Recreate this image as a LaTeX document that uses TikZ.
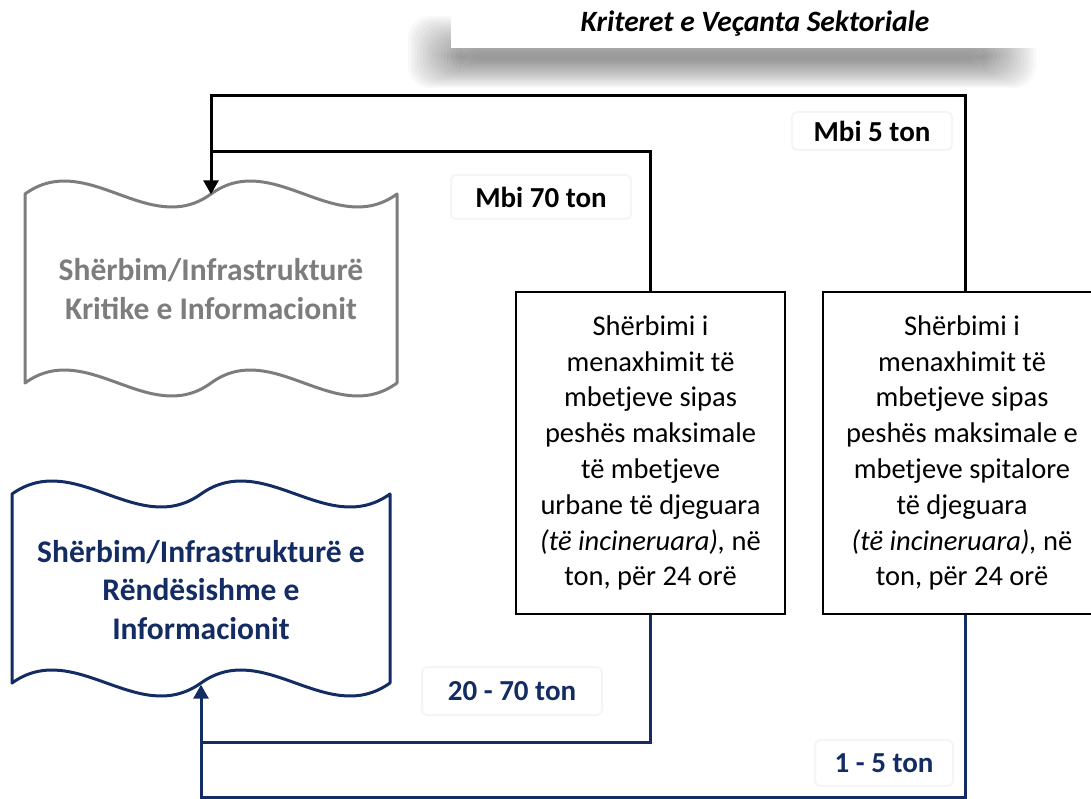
\documentclass[tikz,border=0pt]{standalone}
\usepackage{fontspec}
\setmainfont{Carlito}
\usetikzlibrary{arrows.meta,calc}
\definecolor{navy}{RGB}{20,44,100}
\definecolor{docgray}{RGB}{125,125,125}
\begin{document}
\begin{tikzpicture}[x=1pt,y=-1pt,
  boxtext/.style={draw=black,line width=2.5pt,fill=white,align=center,inner sep=0pt,
    minimum width=269pt,minimum height=322pt,font=\fontsize{28.5}{35.8}\selectfont},
  doctext/.style={align=center,inner sep=0pt,font=\bfseries\fontsize{31.5}{38.5}\selectfont},
  lbl/.style={fill=white,draw=black!4,line width=2pt,rounded corners=5pt,inner sep=0pt,
    font=\bfseries\fontsize{29}{34}\selectfont},
  conn/.style={line width=3pt},
  docline/.style={line width=3pt,line join=round},
  tip/.style={-{Triangle[length=14pt,width=15pt]}}]
\useasboundingbox (0,0) rectangle (1091,799);
\clip (0,0) rectangle (1091,799);

% title shadow (soft, layered)
\foreach \i in {0,...,17}{
  \fill[black,fill opacity=0.028,rounded corners=22pt]
    (408+3*\i,16+2.2*\i) rectangle (1036-3*\i,88-1.6*\i);
}
\node[fill=white,inner sep=0pt,minimum width=608pt,minimum height=48pt,
  font=\bfseries\itshape\fontsize{29.5}{32}\selectfont] (title) at (755,24)
  {Kriteret e Veçanta Sektoriale};

% document shapes
\draw[docline,docgray,fill=white]
  (25,194) .. controls (87,149) and (149,239) .. (211,194)
           .. controls (273,149) and (335,239) .. (397,194)
  -- (397,383)
           .. controls (335,428) and (273,338) .. (211,383)
           .. controls (149,428) and (87,338) .. (25,383) -- cycle;
\node[doctext,text=docgray,minimum width=372pt,minimum height=189pt] (crit) at (211,289)
  {Shërbim/Infrastrukturë\\Kritike e Informacionit};

\draw[docline,navy,fill=white]
  (12,494) .. controls (75,449) and (138,539) .. (201,494)
           .. controls (264,449) and (327,539) .. (390,494)
  -- (390,683)
           .. controls (327,728) and (264,638) .. (201,683)
           .. controls (138,728) and (75,638) .. (12,683) -- cycle;
\node[doctext,text=navy,minimum width=378pt,minimum height=189pt] (imp) at (201,590)
  {Shërbim/Infrastrukturë e\\Rëndësishme e\\Informacionit};

% criteria boxes
\node[boxtext] (mid) at (650.5,453)
  {Shërbimi i\\menaxhimit të\\mbetjeve sipas\\peshës maksimale\\të mbetjeve\\urbane të djeguara\\\textit{(të incineruara),} në\\ton, për 24 orë};
\node[boxtext,minimum width=278pt] (right) at (962,453)
  {Shërbimi i\\menaxhimit të\\mbetjeve sipas\\peshës maksimale e\\mbetjeve spitalore\\të djeguara\\\textit{(të incineruara),} në\\ton, për 24 orë};

% helper coordinates
\coordinate (y96) at (0,96);
\coordinate (y152) at (0,152);
\coordinate (y742) at (0,742);
\coordinate (y797) at (0,797);
\coordinate (j5) at (crit.north |- y96);
\coordinate (j70) at (crit.north |- y152);
\coordinate (b70) at (imp.south |- y742);
\coordinate (b5) at (imp.south |- y797);

% connectors
\draw[conn] (mid.north) |- (j70);
\draw[conn,tip] ($(right.north)+(3,0)$) |- (j5) -- (crit.north);
\draw[conn,navy] (mid.south) |- (b70);
\draw[conn,navy,tip] ($(right.south)+(3,0)$) |- (b5) -- (imp.south);

% labels
\node[lbl,minimum width=160pt,minimum height=38pt] (l5) at (872,131) {Mbi 5 ton};
\node[lbl,minimum width=180pt,minimum height=44pt] (l70) at (541,197) {Mbi 70 ton};
\node[lbl,text=navy,minimum width=180pt,minimum height=48pt] (l2070) at (512,691) {20 - 70 ton};
\node[lbl,text=navy,minimum width=138pt,minimum height=46pt] (l15) at (884,763) {1 - 5 ton};
\end{tikzpicture}
\end{document}
